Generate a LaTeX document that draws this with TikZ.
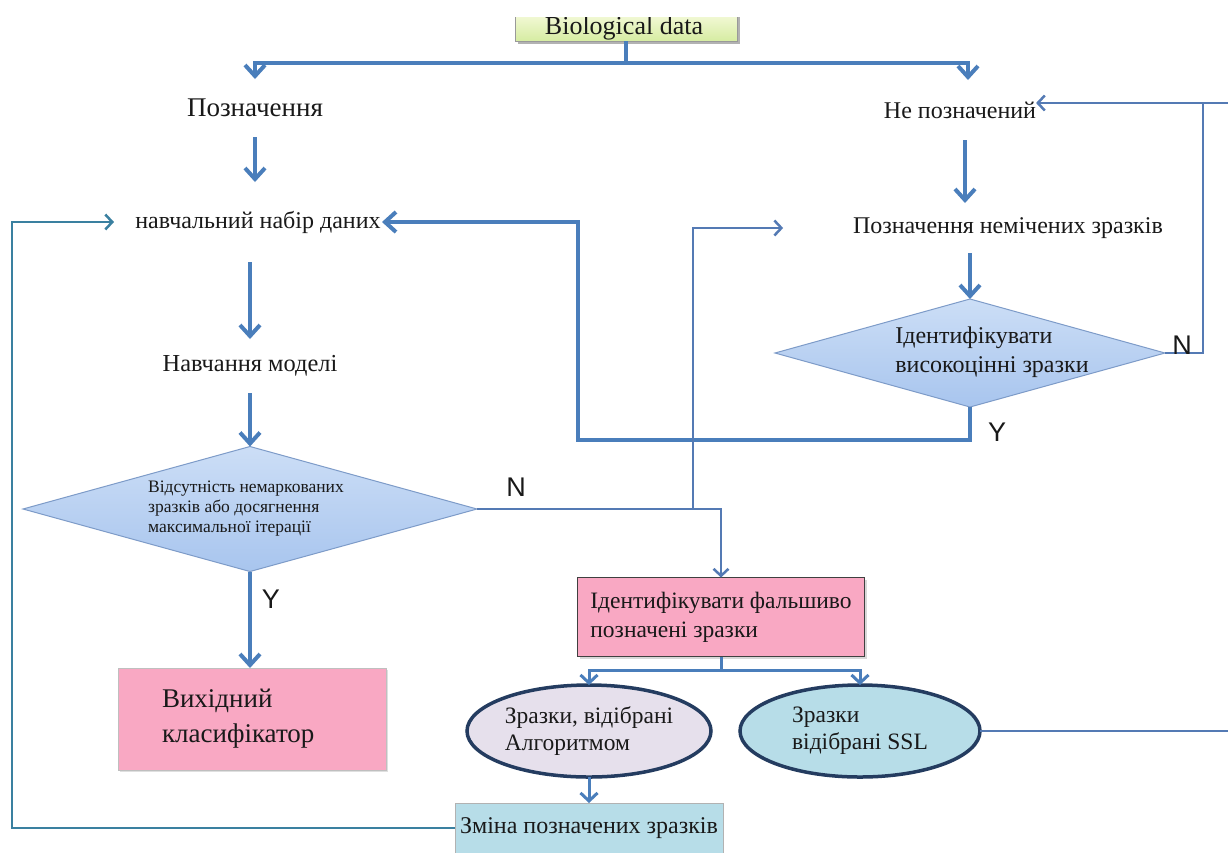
\documentclass[tikz,border=0pt]{standalone}
\usepackage{fontspec}
\setmainfont{Liberation Serif}
\newfontfamily\ynfont{Liberation Sans}
\usetikzlibrary{arrows.meta,shapes.geometric,shadows}

\definecolor{flow}{RGB}{74,126,187}
\definecolor{flowthin}{RGB}{84,122,180}
\definecolor{loopc}{RGB}{58,128,160}
\definecolor{dfillA}{RGB}{204,222,246}
\definecolor{dfillB}{RGB}{168,197,238}
\definecolor{dedge}{RGB}{125,155,200}
\definecolor{pinkf}{RGB}{249,168,195}
\definecolor{lavf}{RGB}{230,224,236}
\definecolor{tealf}{RGB}{183,221,232}
\definecolor{navy}{RGB}{36,60,96}
\definecolor{biogA}{RGB}{240,248,210}
\definecolor{biogB}{RGB}{214,236,162}
\definecolor{ink}{RGB}{25,25,25}

\tikzset{
  txt/.style={inner sep=0pt, outer sep=0pt, text=ink, font=\fontsize{24}{28}\selectfont},
  dia/.style={diamond, inner sep=0pt, outer sep=0pt, draw=dedge, line width=1pt,
              top color=dfillA, bottom color=dfillB},
  rbox/.style={rectangle, inner sep=0pt, outer sep=0pt, text=ink, align=left},
  oval/.style={ellipse, inner sep=0pt, outer sep=0pt, draw=navy, line width=3.5pt,
               text=ink, align=left, font=\fontsize{23.5}{27}\selectfont},
  arr/.style={draw=flow, line width=4pt, -{Straight Barb[length=11pt,width=20pt]}},
  midarr/.style={draw=flow, line width=3pt, -{Straight Barb[length=8pt,width=17pt]}},
  thinarr/.style={draw=flowthin, line width=2.5pt, -{Straight Barb[length=7pt,width=15pt]}},
  thinline/.style={draw=flowthin, line width=2.5pt},
  looparr/.style={draw=loopc, line width=2.5pt, -{Straight Barb[length=7pt,width=15pt]}},
  ynlab/.style={inner sep=0pt, text=ink, font=\ynfont\fontsize{27}{30}\selectfont},
}

\begin{document}
\begin{tikzpicture}[x=1pt,y=-1pt]
\useasboundingbox (0,0) rectangle (1228,852);
\clip (0,0) rectangle (1228,852);
\fill[white] (0,0) rectangle (1228,852);

% source box, cut off by the top edge
\fill[black!30] (518,17) rectangle (740,44);
\node[rbox, minimum width=222pt, minimum height=24pt,
      top color=biogA, bottom color=biogB] (bio) at (626,29) {};
\draw[black!40, line width=0.8pt] (bio.north west) -- (bio.south west) -- (bio.south east) -- (bio.north east);
\begin{scope}
  \clip (bio.north west) rectangle (bio.south east);
  \node[txt, anchor=base, font=\fontsize{26}{30}\selectfont] (biotext) at (624,34) {Biological data};
\end{scope}

% left column
\node[txt, font=\fontsize{27}{30}\selectfont, minimum height=58pt] (lab) at (255,108) {Позначення};
\node[txt, minimum height=80pt, minimum width=248pt] (nav) at (258,222) {навчальний набір даних};
\node[txt, font=\fontsize{24.4}{28}\selectfont, minimum height=54pt] (train) at (250,366) {Навчання моделі};
\node[dia, aspect=3.63, minimum width=454pt, minimum height=125pt] (d1) at (250,509) {};
\node[txt, align=left, font=\fontsize{17.5}{20}\selectfont] (d1t) at (246,509)
  {Відсутність немаркованих\\зразків або досягнення\\максимальної ітерації};
\node[rbox, fill=pinkf, draw=black!25, line width=1pt, minimum width=268pt, minimum height=102pt,
      text width=180pt, drop shadow={opacity=0.25}, font=\fontsize{27}{35}\selectfont] (out) at (252,719)
  {Вихідний\\класифікатор};

% right column
\node[txt, minimum height=60pt] (unl) at (960,110) {Не позначений};
\node[txt, minimum height=50pt] (ulab) at (1008,228) {Позначення немічених зразків};
\node[dia, aspect=3.61, minimum width=390pt, minimum height=108pt] (d2) at (970,353) {};
\node[txt, align=left, font=\fontsize{24}{29}\selectfont] (d2t) at (992,352)
  {Ідентифікувати\\високоцінні зразки};

% lower middle
\node[rbox, fill=pinkf, draw=black!75, line width=1.5pt, minimum width=287pt, minimum height=79pt,
      drop shadow={opacity=0.3}, font=\fontsize{23.5}{29}\selectfont] (box2) at (721,617)
  {Ідентифікувати фальшиво\\позначені зразки};
\node[oval, fill=lavf, minimum width=244pt, minimum height=92pt] (e1) at (589,731)
  {Зразки, відібрані\\Алгоритмом};
\node[oval, fill=tealf, minimum width=240pt, minimum height=92pt] (e2) at (860,731)
  {Зразки\\відібрані SSL};
\node[rbox, fill=tealf, draw=black!30, line width=1pt, minimum width=268pt, minimum height=50pt,
      font=\fontsize{24}{28}\selectfont] (fix) at (589,828) {Зміна позначених зразків};

% junction points
\coordinate (split) at (626,63);
\coordinate (yc) at (578,440);
\coordinate (nbr) at (693,509);
\coordinate (b2s) at (721,670);
\coordinate (lc) at (12,222);
\coordinate (rt) at (1240,103);
\coordinate (nj) at (1203,103);

% connectors from the source
\draw[draw=flow, line width=4pt] (bio.south) -- (split);
\draw[arr] (split) -| (lab.north);
\draw[arr] (split) -| ([xshift=8pt]unl.north);

% left column flow
\draw[arr] (lab.south) -- (lab.south |- nav.north);
\draw[arr] (train.north |- nav.south) -- (train.north);
\draw[arr] (train.south) -- (d1.north);
\draw[arr] (d1.south) -- (d1.south |- out.north);
\node[ynlab] (y1) at (271,599) {Y};

% right column flow
\draw[arr] ([xshift=5pt]unl.south) -- ([xshift=5pt]unl.south |- ulab.north);
\draw[arr] (ulab.south -| d2.north) -- (d2.north);
\draw[arr] (d2.south) |- (yc) |- (nav.east);
\node[ynlab] (y2) at (997,432) {Y};
\draw[thinline] (d2.east) -| (nj);
\node[ynlab] (n2) at (1182,345) {N};

% "N" branch of the left decision
\draw[thinarr] (d1.east) -| (box2.north);
\draw[thinarr, shorten >=70pt] (nbr) |- (ulab.west);
\node[ynlab] (n1) at (516,487) {N};

% split below the false-label check
\draw[draw=flow, line width=3pt] (box2.south) -- (b2s);
\draw[midarr] (b2s) -| (e1.north);
\draw[midarr] (b2s) -| (e2.north);
\draw[midarr] (e1.south) -- (fix.north);

% feedback loops
\draw[looparr, shorten >=20pt] (fix.west) -| (lc) -- (nav.west);
\draw[thinarr] (e2.east) -| (rt) -- (rt -| unl.east);
\end{tikzpicture}
\end{document}
